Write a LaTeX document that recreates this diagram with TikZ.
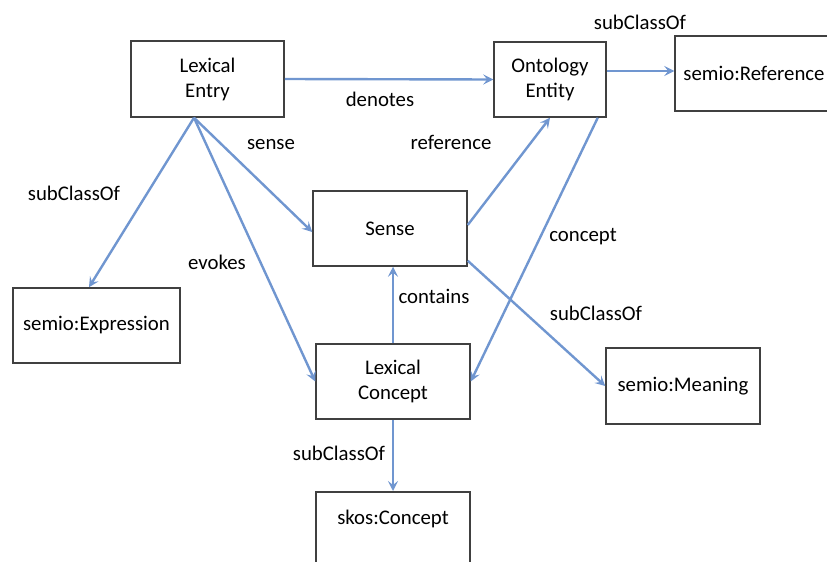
\documentclass[tikz,border=0pt]{standalone}
\usepackage{fontspec}
\setmainfont{Carlito}
\usetikzlibrary{arrows.meta}
\definecolor{linkblue}{RGB}{112,150,208}
\definecolor{boxgray}{RGB}{64,64,64}

\begin{document}
\begin{tikzpicture}[x=1pt, y=-1pt,
	box/.style = {draw=boxgray, line width=1.5pt, align=center, inner sep=0pt, font=\fontsize{20.8}{25}\selectfont},
	link/.style = {draw=linkblue, line width=2.4pt, -{Stealth[length=10pt, width=10pt, inset=4pt]}},
	lbl/.style = {anchor=base, inner sep=0pt, font=\fontsize{20.8}{25}\selectfont}]

	\useasboundingbox (0,0) rectangle (827,562);

	% classes
	\node[box, minimum width=153, minimum height=76] (entry) at (207.5,79) {Lexical\\Entry};
	\node[box, minimum width=112, minimum height=75] (onto) at (550,79.5) {Ontology\\Entity};
	\node[box, minimum width=158, minimum height=75] (ref) at (754,73.5) {semio:Reference};
	\node[box, minimum width=154, minimum height=75] (sense) at (390,228.5) {Sense};
	\node[box, minimum width=167, minimum height=75] (expr) at (96.5,325.5) {semio:Expression};
	\node[box, minimum width=154, minimum height=75] (lexcon) at (393,381.5) {Lexical\\Concept};
	\node[box, minimum width=154, minimum height=76] (mean) at (683,386) {semio:Meaning};
	\node[box, minimum width=154, text height=33, text depth=42, anchor=north] (skos) at (393,491) {skos:Concept};

	\coordinate (entryfoot) at ([xshift=-13.5pt]entry.south);
	\coordinate (ontoout) at ([yshift=8.5pt]onto.east);

	% relations
	\draw[link] (entry.east) -- (onto.west);
	\draw[link] (ontoout) -- (ontoout -| ref.west);
	\draw[link] (entryfoot) -- ([xshift=-7.5pt]expr.north);
	\draw[link] (entryfoot) -- ([yshift=-3.5pt]sense.west);
	\draw[link] (entryfoot) -- (lexcon.west);
	\draw[link] ([yshift=3.5pt]sense.east) -- (onto.south);
	\draw[link] ([xshift=-9pt]onto.south east) -- (lexcon.east);
	\draw[link] ([yshift=6pt]sense.south east) -- (mean.west);
	\draw[link] (lexcon.north) -- (lexcon.north |- sense.south);
	\draw[link] (lexcon.south) -- (skos.north);

	% labels
	\node[lbl] (lblSubRef) at (640,29) {subClassOf};
	\node[lbl] (lblDenotes) at (380,106) {denotes};
	\node[lbl] (lblSense) at (271,149) {sense};
	\node[lbl] (lblReference) at (451,149) {reference};
	\node[lbl] (lblSubExpr) at (74,200) {subClassOf};
	\node[lbl] (lblEvokes) at (217,269) {evokes};
	\node[lbl] (lblConcept) at (583,241) {concept};
	\node[lbl] (lblContains) at (434,303) {contains};
	\node[lbl] (lblSubMean) at (596,320) {subClassOf};
	\node[lbl] (lblSubSkos) at (339,460) {subClassOf};

\end{tikzpicture}
\end{document}
